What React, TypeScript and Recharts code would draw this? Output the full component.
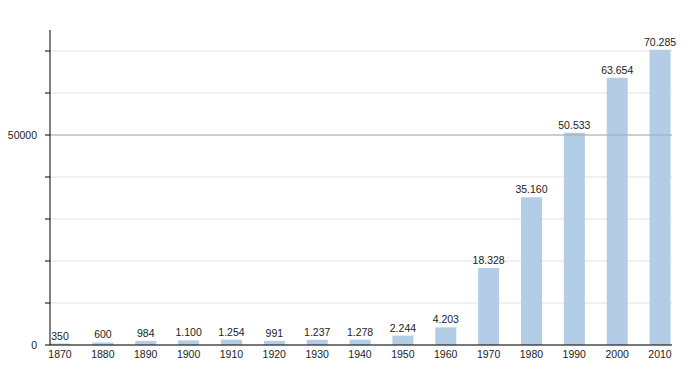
import { BarChart, Bar, XAxis, YAxis, CartesianGrid, ReferenceLine, LabelList } from 'recharts';

const years = [1870, 1880, 1890, 1900, 1910, 1920, 1930, 1940, 1950, 1960, 1970, 1980, 1990, 2000, 2010];
const population = [350, 600, 984, 1100, 1254, 991, 1237, 1278, 2244, 4203, 18328, 35160, 50533, 63654, 70285];
const yTicks = [0, 10000, 20000, 30000, 40000, 50000, 60000, 70000];
const yLabels = [0, 50000];

const data = years.map((year, i) => ({ year, value: population[i] }));

const fmt = (v: any) => Number(v).toString().replace(/\B(?=(\d{3})+(?!\d))/g, '.');

const FONT = 'Liberation Sans, Arial, sans-serif';

export default function App() {
  return (
    <div style={{ width: 700, height: 375, fontFamily: FONT }}>
      <style>{'body{margin:0}'}</style>
      <BarChart width={700} height={375} data={data} margin={{ top: 30, right: 28, bottom: 10, left: 0 }}>
        <CartesianGrid vertical={false} stroke="#e2e2e2" horizontalValues={yTicks} />
        <ReferenceLine y={50000} stroke="#a8a8a8" />
        <XAxis
          dataKey="year"
          type="number"
          domain={[1867.67, 2012.8]}
          ticks={years}
          tickLine={false}
          axisLine={{ stroke: '#000' }}
          height={20}
          tick={{ fontSize: 10.5, fill: '#222', fontFamily: FONT }}
          tickMargin={0}
          interval={0}
        />
        <YAxis
          width={50}
          domain={[0, 75000]}
          ticks={yTicks}
          interval={0}
          axisLine={{ stroke: '#000' }}
          tickLine={{ stroke: '#000' }}
          tickSize={5}
          tickMargin={8}
          tick={{ fontSize: 10.5, fill: '#222', fontFamily: FONT }}
          tickFormatter={(v: number) => (yLabels.includes(v) ? String(v) : '')}
        />
        <Bar dataKey="value" fill="#b3cde6" barSize={21} isAnimationActive={false}>
          <LabelList dataKey="value" position="top" formatter={fmt} style={{ fontSize: 10.5, fill: '#222', fontFamily: FONT }} offset={4} />
        </Bar>
      </BarChart>
    </div>
  );
}
